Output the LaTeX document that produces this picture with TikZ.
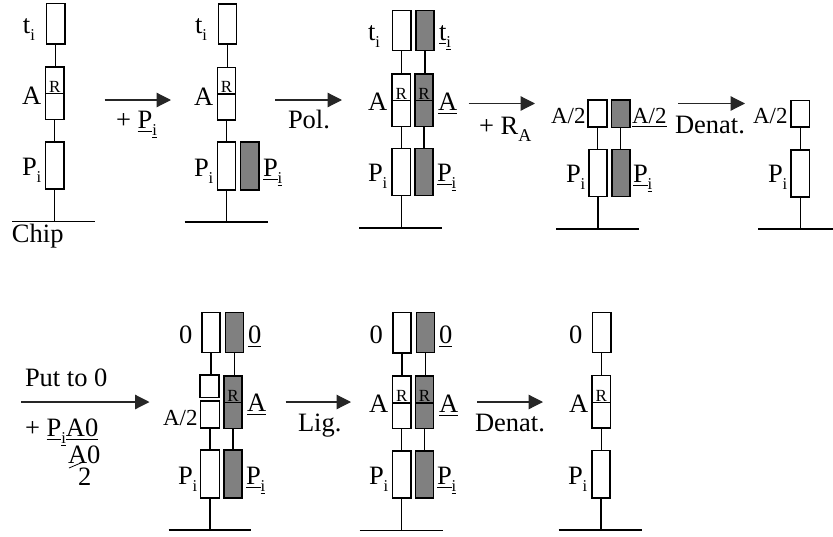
\documentclass[tikz,border=0pt]{standalone}
\usepackage{fontspec}
\setmainfont{Liberation Serif}
\usetikzlibrary{arrows.meta}
\newcommand\ulb[1]{\setbox0\hbox{#1}\rlap{\rule[-4pt]{\wd0}{1.3pt}}\box0}
\newcommand\subi{\raisebox{-7.5pt}{\fontsize{16.5}{16.5}\selectfont i}}
\newcommand\subu{\raisebox{-7.5pt}{\fontsize{16.5}{16.5}\selectfont\setbox0\hbox{i}\rlap{\rule[-2pt]{\wd0}{.6pt}}\box0}}
\newcommand\Pii{P\subi}
\newcommand\uPi{\ulb{P}\subu}
\newcommand\smalltx{\fontsize{23}{23}\selectfont}
\tikzset{
  bar/.style={draw=black,line width=1.15pt,inner sep=0,outer sep=0,fill=#1},
  bar/.default=white,
  wire/.style={draw=black,line width=1.2pt},
  flow/.style={draw=black!85,line width=1.2pt,-{Triangle[length=14.5pt,width=14.5pt]}},
  lbl/.style={inner sep=0,outer sep=0,anchor=base west,font=\fontsize{26.5}{26.5}\selectfont},
  rlbl/.style={inner sep=0,outer sep=0,anchor=base,font=\fontsize{17}{17}\selectfont},
}
% name, x0, x1, y0, y1, fill
\newcommand\bx[6]{\node[bar=#6,minimum width={(#3-#2)*1pt},minimum height={(#5-#4)*1pt}] (#1) at ({(#2+#3)/2},{(#4+#5)/2}) {};}
% name, x0, x1, y0, ymid, y1, fill : two-part block carrying R
\newcommand\rb[7]{\bx{#1}{#2}{#3}{#4}{#5}{#7}\bx{#1b}{#2}{#3}{#5}{#6}{#7}\node[rlbl] (#1r) at ({(#2+#3)/2},{#5-1.5}) {R};}
\newcommand\tx[4]{\node[lbl] (#1) at (#2,#3) {#4};}
% stem from a to b (vertical, at a's x)
\newcommand\st[2]{\draw[wire] (#1.south) -- (#1.south |- #2.north);}
% base line: name, x0, x1, y, then stem from node
\newcommand\bs[5]{\coordinate (#1l) at (#2,#4);\coordinate (#1r) at (#3,#4);\draw[wire] (#1l) -- (#1r);\draw[wire] (#5.south) -- (#5.south |- #1l);}
\newcommand\ar[4]{\coordinate (#1s) at (#2,#4);\coordinate (#1e) at (#3,#4);\draw[flow] (#1s) -- (#1e);}
\begin{document}
\begin{tikzpicture}[x=1pt,y=-1pt]
\useasboundingbox (0,0) rectangle (833,536);
% column 1
\bx{at}{46.5}{65}{3.5}{44}{white}\rb{aa}{45.5}{64}{67}{93.5}{119.5}{white}\bx{ap}{45.5}{64}{142}{189}{white}
\st{at}{aa}\st{aab}{ap}\bs{ab}{12}{95}{221.5}{ap}
\tx{atx}{23}{33}{t\subi}\tx{aax}{22}{104}{A}\tx{apx}{22}{175}{\Pii}\tx{chip}{12}{242}{Chip}
\ar{a1}{104.5}{171}{100}\tx{a1x}{116}{128}{+ \uPi}
% column 2
\bx{bt}{218.5}{236.5}{4}{44}{white}\rb{ba}{217.5}{235.5}{67.5}{94}{120}{white}\bx{bp}{217.5}{235.5}{142}{190}{white}\bx{bq}{240.5}{259}{142}{190}{gray}
\st{bt}{ba}\st{bab}{bp}\bs{bb}{184.5}{267.5}{222}{bp}
\tx{btx}{195}{33}{t\subi}\tx{bax}{194}{105}{A}\tx{bpx}{194}{176}{\Pii}\tx{bqx}{263}{176}{\uPi}
\ar{a2}{275}{342}{100}\tx{a2x}{288}{128}{Pol.}
% column 3
\bx{ct}{392.5}{411}{10.5}{50.5}{white}\bx{cu}{416}{434}{10.5}{50.5}{gray}
\rb{ca}{392}{410.5}{74}{100.5}{126.5}{white}\rb{cc}{415}{433}{74}{100.5}{126.5}{gray}
\bx{cp}{392}{410.5}{148.5}{195.5}{white}\bx{cq}{415}{433}{148.5}{195.5}{gray}
\st{ct}{ca}\st{cu}{cc}\st{cab}{cp}\st{ccb}{cq}\bs{cb}{359}{442}{228}{cp}
\tx{ctx}{368}{40}{t\subi}\tx{cux}{439}{40}{\ulb{t}\subu}\tx{cax}{368}{110}{A}\tx{ccx}{438}{110}{\ulb{A}}\tx{cpx}{368}{181}{\Pii}\tx{cqx}{437}{181}{\uPi}
\ar{a3}{468.5}{535}{103.5}\tx{a3x}{479}{134}{+ R\raisebox{-7.5pt}{\fontsize{18}{18}\selectfont A}}
% column 4
\bx{dt}{588}{607}{100}{127}{white}\bx{du}{611.5}{630}{100}{127.5}{gray}
\bx{dp}{589}{607}{149.5}{196.5}{white}\bx{dq}{612}{630}{149.5}{196.5}{gray}
\st{dt}{dp}\st{du}{dq}\bs{db}{556}{639}{229}{dp}
\tx{dtx}{551}{123}{\smalltx A/2}\tx{dux}{632}{123}{\smalltx\ulb{A/2}}\tx{dpx}{566}{182}{\Pii}\tx{dqx}{633}{182}{\uPi}
\ar{a4}{678}{745}{103.5}\tx{a4x}{675}{133}{Denat.}
% column 5
\bx{et}{791}{809.5}{100.5}{127}{white}\bx{ep}{791}{809.5}{150}{197}{white}
\st{et}{ep}\bs{eb}{758}{833}{229}{ep}
\tx{etx}{753}{123}{\smalltx A/2}\tx{epx}{768}{182}{\Pii}
% lower left arrow
\ar{a5}{21}{149.5}{402}\tx{a5x}{25}{386}{Put to 0}
\tx{a5y}{25}{436}{+ \uPi\ulb{A0}}\tx{a5z}{68}{463}{A0}\tx{a5w}{78}{485.5}{2}
\coordinate (sa) at (69,468);\coordinate (sb) at (83,462);\draw[wire,line width=.8pt] (sa) -- (sb);
% column 6
\bx{ft}{202}{220}{312.5}{352.5}{white}\bx{fu}{225.5}{243.5}{312.5}{352.5}{gray}
\bx{fa}{200}{219}{375}{397.5}{white}\bx{fb}{200.5}{219.5}{401}{428}{white}
\rb{fc}{224}{242}{376}{402.5}{428.5}{gray}
\bx{fp}{200.5}{219.5}{450}{498}{white}\bx{fq}{224}{242}{450}{498}{gray}
\st{ft}{fa}\st{fu}{fc}\st{fb}{fp}\st{fcb}{fq}\bs{fd}{168.5}{251}{530}{fp}
\tx{ftx}{179}{343}{0}\tx{fux}{248}{343}{\ulb{0}}\tx{fbx}{163}{425}{\smalltx A/2}\tx{fcx}{247}{411}{\ulb{A}}\tx{fpx}{178}{484}{\Pii}\tx{fqx}{246}{484}{\uPi}
\ar{a6}{285.5}{351}{402}\tx{a6x}{298}{431}{Lig.}
% column 7
\bx{gt}{393}{411}{312.5}{353}{white}\bx{gu}{416.5}{434.5}{312.5}{352.5}{gray}
\rb{ga}{392.5}{411}{376}{403}{428.5}{white}\rb{gc}{415.5}{433.5}{376}{403}{428.5}{gray}
\bx{gp}{392.5}{411}{451}{498}{white}\bx{gq}{415.5}{433.5}{451}{498}{gray}
\st{gt}{ga}\st{gu}{gc}\st{gab}{gp}\st{gcb}{gq}\bs{gd}{359.5}{442.5}{530.5}{gp}
\tx{gtx}{369.5}{343}{0}\tx{gux}{439}{343}{\ulb{0}}\tx{gax}{369}{412}{A}\tx{gcx}{439}{412}{\ulb{A}}\tx{gpx}{369}{484}{\Pii}\tx{gqx}{437}{484}{\uPi}
\ar{a7}{477}{543}{402}\tx{a7x}{475}{431}{Denat.}
% column 8
\bx{ht}{592.5}{611}{312.5}{352.5}{white}\rb{ha}{592}{610.5}{375.5}{402.5}{428}{white}\bx{hp}{592}{610}{450.5}{498}{white}
\st{ht}{ha}\st{hab}{hp}\bs{hd}{558.5}{641.5}{530}{hp}
\tx{htx}{569}{343}{0}\tx{hax}{569}{412}{A}\tx{hpx}{568}{484}{\Pii}
\end{tikzpicture}
\end{document}
